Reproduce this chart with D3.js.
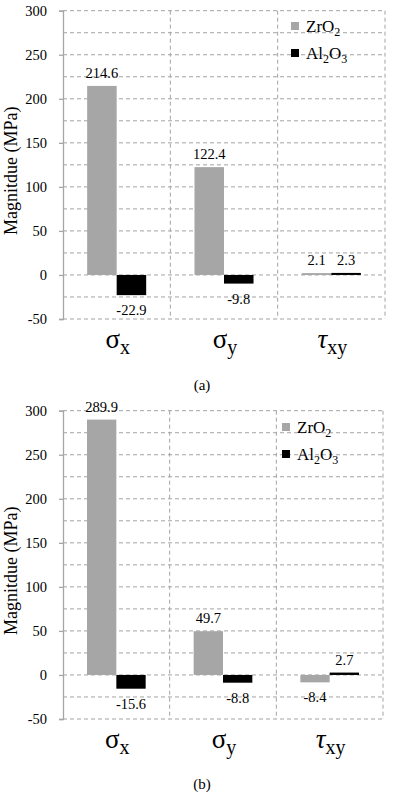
<!DOCTYPE html>
<html>
<head>
<meta charset="utf-8">
<script src="https://cdn.jsdelivr.net/npm/d3@7"></script>
<style>
  html, body { margin: 0; padding: 0; background: #fff; }
  svg { display: block; }
  svg text { font-family: 'Liberation Serif', 'Tinos', 'Times New Roman', 'DejaVu Serif', serif !important; }
</style>
</head>
<body>
<svg id="chart" width="395" height="792"></svg>
<script>
// ---- data ----
const categories = ["σx", "σy", "τxy"];
const series = ["ZrO2", "Al2O3"];
const zro2A = [214.6, 122.4, 2.1];
const al2o3A = [-22.9, -9.8, 2.3];
const zro2B = [289.9, 49.7, -8.4];
const al2o3B = [-15.6, -8.8, 2.7];
const yTickLabels = [-50, 0, 50, 100, 150, 200, 250, 300];
const gridValues = [-50, -25, 0, 25, 50, 75, 100, 125, 150, 175, 200, 225, 250, 275, 300];
const panelLabels = ["(a)", "(b)"];
const yTitle = "Magnitdue (MPa)";

const colors = { "ZrO2": "#a6a6a6", "Al2O3": "#000000" };
const gridColor = "#a3a3a3";

const svg = d3.select("#chart");

const panels = [
  { vals: [zro2A, al2o3A], top: 10.7, bottom: 319, left: 63, right: 385, legX: 291, legY: 22, label: panelLabels[0], labelY: 390 },
  { vals: [zro2B, al2o3B], top: 410.7, bottom: 719, left: 63, right: 383, legX: 282, legY: 423, label: panelLabels[1], labelY: 789 }
];

function txt(sel) { return sel.attr("fill", "#000"); }

panels.forEach(p => {
  const g = svg.append("g");
  const y = d3.scaleLinear().domain([-50, 300]).range([p.bottom, p.top]);
  const x = d3.scaleBand().domain(categories).range([p.left, p.right]);
  const bw = x.bandwidth();
  const xs = d3.scaleBand().domain(series).range([bw * 0.225, bw * 0.775]);

  g.selectAll("line.hgrid").data(gridValues).join("line")
    .attr("x1", p.left).attr("x2", p.right)
    .attr("y1", d => y(d)).attr("y2", d => y(d))
    .attr("stroke", gridColor).attr("stroke-width", 1).attr("stroke-dasharray", "4,3");

  const seps = categories.map(c => x(c) + bw);
  g.selectAll("line.vgrid").data(seps).join("line")
    .attr("x1", d => d).attr("x2", d => d)
    .attr("y1", p.top).attr("y2", p.bottom)
    .attr("stroke", gridColor).attr("stroke-width", 1).attr("stroke-dasharray", "4,3");

  series.forEach((s, si) => {
    const vals = p.vals[si];
    g.selectAll(null).data(vals).join("rect")
      .attr("x", (d, i) => x(categories[i]) + xs(s))
      .attr("width", xs.bandwidth())
      .attr("y", d => y(Math.max(0, d)))
      .attr("height", d => Math.abs(y(d) - y(0)))
      .attr("fill", colors[s]);
    txt(g.selectAll(null).data(vals).join("text"))
      .attr("x", (d, i) => x(categories[i]) + xs(s) + xs.bandwidth() / 2)
      .attr("y", d => d >= 0 ? y(d) - 8 : y(d) + 20)
      .attr("text-anchor", "middle")
      .attr("font-size", "14.5px")
      .text(d => d.toFixed(1));
  });

  const axis = d3.axisLeft(y).tickValues(yTickLabels).tickSize(4).tickPadding(12).tickFormat(d => String(d));
  const ag = g.append("g").attr("transform", `translate(${p.left},0)`).call(axis);
  ag.attr("font-family", null).attr("font-size", null);
  ag.select(".domain").attr("stroke", "#a6a6a6").attr("stroke-width", 1.3);
  ag.selectAll(".tick line").attr("stroke", "#a6a6a6").attr("stroke-width", 1.3);
  txt(ag.selectAll(".tick text")).attr("font-size", "14.5px");

  txt(g.append("text"))
    .attr("transform", `translate(17,${(p.top + p.bottom) / 2 + 6}) rotate(-90)`)
    .attr("text-anchor", "middle")
    .attr("font-size", "18px")
    .text(yTitle);

  categories.forEach(c => {
    const sym = c.charAt(0), sub = c.slice(1);
    const t = txt(g.append("text"))
      .attr("x", x(c) + bw / 2 + 1)
      .attr("y", p.bottom + 29)
      .attr("text-anchor", "middle");
    t.append("tspan").attr("font-size", "27px")
      .attr("font-style", sym === "τ" ? "italic" : "normal").text(sym);
    t.append("tspan").attr("font-size", "20px").attr("dy", 6).text(sub);
  });

  txt(g.append("text")).attr("x", 202).attr("y", p.labelY)
    .attr("text-anchor", "middle").attr("font-size", "15px").text(p.label);

  const legItems = [
    { key: "ZrO2", parts: [["ZrO", false], ["2", true]] },
    { key: "Al2O3", parts: [["Al", false], ["2", true], ["O", false], ["3", true]] }
  ];
  legItems.forEach((it, i) => {
    const ly = p.legY + i * 27;
    g.append("rect").attr("x", p.legX).attr("y", ly).attr("width", 8).attr("height", 8)
      .attr("fill", colors[it.key]);
    const t = txt(g.append("text")).attr("x", p.legX + 15).attr("y", ly + 10).attr("font-size", "17px");
    let shifted = false;
    it.parts.forEach(([s, isSub]) => {
      const ts = t.append("tspan").text(s);
      if (isSub) { ts.attr("font-size", "12px"); if (!shifted) { ts.attr("dy", 4); shifted = true; } }
      else if (shifted) { ts.attr("dy", -4); shifted = false; }
    });
  });
});
</script>
</body>
</html>
